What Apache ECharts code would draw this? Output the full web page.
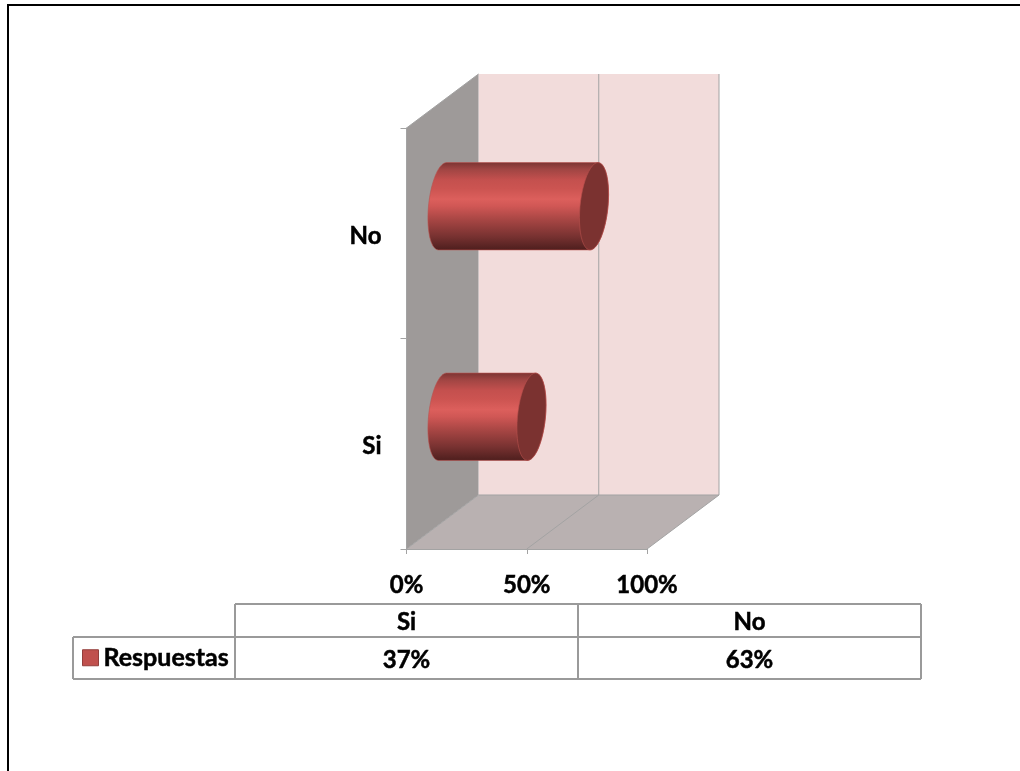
<!DOCTYPE html>
<html>
<head>
<meta charset="utf-8">
<title>Respuestas</title>
<style>html,body{margin:0;padding:0;background:#fff}#chart{width:1020px;height:771px}</style>
<script src="https://cdn.jsdelivr.net/npm/echarts@6/dist/echarts.min.js"></script>
</head>
<body>
<div id="chart"></div>
<script>
// Chart data
const categories = ['Si', 'No'];
const seriesName = 'Respuestas';
const respuestas = [37, 63];
const axisTicks = [0, 50, 100];

// Styling
const FONT = 'Lato, "Open Sans", sans-serif';
const FONT_SIZE = 24;
const TEXT_WEIGHT = { textBorderColor: '#000', textBorderWidth: 0.5 };
const LABEL_TEXT = { color: '#000', fontWeight: 'bold', fontSize: FONT_SIZE, fontFamily: FONT, ...TEXT_WEIGHT };
const LINE = '#a3a3a3';
const TABLE_LINE = '#9a9a9a';

// Oblique projection: how far the back of the plot box sits from its front
const DEPTH_X = 72, DEPTH_Y = -54;
// The bar sits half way into the box
const MID_X = DEPTH_X / 2, MID_Y = DEPTH_Y / 2;
// Lean of the end ellipses
const CAP_RX = 14, CAP_SHEAR = 4;

function ellipsePoints(cx, cy, ry, from, to) {
  const pts = [];
  const n = 48;
  for (let i = 0; i <= n; i++) {
    const t = from + (to - from) * i / n;
    pts.push([cx + CAP_RX * Math.cos(t) + CAP_SHEAR * Math.sin(t), cy - ry * Math.sin(t)]);
  }
  return pts;
}

// Back wall, side wall, floor and the depth lines of the value gridlines
function renderBox(params, api) {
  const g = params.coordSys;
  const L = g.x, R = g.x + g.width, T = g.y, B = g.y + g.height;
  const poly = (points, style) => ({ type: 'polygon', shape: { points }, style });
  const seg = (x1, y1, x2, y2) => ({
    type: 'line', shape: { x1, y1, x2, y2 }, style: { stroke: LINE, lineWidth: 1 }
  });
  const children = [
    poly([[L + DEPTH_X, T + DEPTH_Y], [R + DEPTH_X, T + DEPTH_Y], [R + DEPTH_X, B + DEPTH_Y], [L + DEPTH_X, B + DEPTH_Y]], { fill: '#f2dcdb' }),
    poly([[L, T], [L + DEPTH_X, T + DEPTH_Y], [L + DEPTH_X, B + DEPTH_Y], [L, B]], { fill: '#9e9a99' }),
    poly([[L, B], [L + DEPTH_X, B + DEPTH_Y], [R + DEPTH_X, B + DEPTH_Y], [R, B]], { fill: '#b9b1b1' }),
    seg(L, T, L + DEPTH_X, T + DEPTH_Y),
    seg(L, B, L + DEPTH_X, B + DEPTH_Y),
    seg(L + DEPTH_X, B + DEPTH_Y, R + DEPTH_X, B + DEPTH_Y)
  ];
  axisTicks.slice(1).forEach(v => {
    const x = api.coord([v, 0])[0];
    children.push(seg(x, B, x + DEPTH_X, B + DEPTH_Y));
    children.push(seg(x + DEPTH_X, B + DEPTH_Y, x + DEPTH_X, T + DEPTH_Y));
  });
  return { type: 'group', children };
}

// Horizontal cylinder from the zero line to the value
function renderCylinder(params, api) {
  const base = api.coord([0, api.value(1)]);
  const end = api.coord([api.value(0), api.value(1)]);
  const ry = api.size([0, 1])[1] * 0.2075;
  const cy = base[1] + MID_Y;
  const x0 = base[0] + MID_X, x1 = end[0] + MID_X;
  // Body outline: the far half of the start ellipse joined to the near half of the end ellipse
  const body = ellipsePoints(x0, cy, ry, Math.PI / 2, Math.PI * 1.5)
    .concat(ellipsePoints(x1, cy, ry, -Math.PI / 2, Math.PI / 2));
  const shade = new echarts.graphic.LinearGradient(0, 0, 0, 1, [
    { offset: 0, color: '#7b3432' },
    { offset: 0.08, color: '#a04543' },
    { offset: 0.2, color: '#c4504e' },
    { offset: 0.3, color: '#cc5451' },
    { offset: 0.42, color: '#dc5f5c' },
    { offset: 0.5, color: '#d05755' },
    { offset: 0.65, color: '#a84644' },
    { offset: 0.85, color: '#763130' },
    { offset: 1, color: '#4d1e1d' }
  ]);
  return {
    type: 'group',
    children: [
      { type: 'polygon', shape: { points: body }, style: { fill: shade, stroke: '#b9504e', lineWidth: 0.6 } },
      { type: 'polygon', shape: { points: ellipsePoints(x1, cy, ry, 0, Math.PI * 2) },
        style: { fill: '#7b3230', stroke: '#b9504e', lineWidth: 0.6 } }
    ]
  };
}

// Data table under the plot
const TABLE = { left: 73, label: 235, mid: 578, right: 921, top: 604, row: 637, bottom: 679 };
function tableGraphics() {
  const t = TABLE;
  const seg = (x1, y1, x2, y2) => ({
    type: 'line', shape: { x1, y1, x2, y2 }, style: { stroke: TABLE_LINE, lineWidth: 2 }, z: 1
  });
  const cell = (x, y, text) => ({
    type: 'text', x, y,
    style: {
      text, fill: '#000', font: 'bold ' + FONT_SIZE + 'px ' + FONT, textAlign: 'center', textVerticalAlign: 'middle',
      stroke: '#000', lineWidth: 0.5
    }, z: 2
  });
  const xs = [t.label, t.mid];
  const out = [
    seg(t.label, t.top, t.right, t.top),
    seg(t.left, t.row, t.right, t.row),
    seg(t.left, t.bottom, t.right, t.bottom),
    seg(t.left, t.row, t.left, t.bottom),
    seg(t.label, t.top, t.label, t.bottom),
    seg(t.mid, t.top, t.mid, t.bottom),
    seg(t.right, t.top, t.right, t.bottom)
  ];
  categories.forEach((c, i) => {
    const cx = (xs[i] + (i + 1 < xs.length ? xs[i + 1] : t.right)) / 2;
    out.push(cell(cx, 622, c));
    out.push(cell(cx, 660, respuestas[i] + '%'));
  });
  // Outer frame lines along the top and left edges
  const edge = (x1, y1, x2, y2) => ({
    type: 'line', shape: { x1, y1, x2, y2 }, style: { stroke: '#000', lineWidth: 2 }, z: 1
  });
  out.push(edge(7, 5, 1020, 5), edge(8, 4, 8, 771));
  return out;
}

const chart = echarts.init(document.getElementById('chart'), null, { renderer: 'canvas' });
chart.setOption({
  animation: false,
  backgroundColor: '#fff',
  textStyle: { fontFamily: FONT },
  grid: { left: 406.5, top: 128, width: 240.5, height: 421 },
  xAxis: {
    type: 'value', min: axisTicks[0], max: axisTicks[2], interval: axisTicks[1], z: 3,
    axisLine: { show: true, lineStyle: { color: LINE } },
    axisTick: { show: true, length: 5, lineStyle: { color: LINE } },
    splitLine: { show: false },
    axisLabel: { ...LABEL_TEXT, margin: 24, formatter: '{value}%' }
  },
  yAxis: {
    type: 'category', data: categories, z: 3,
    axisLine: { show: true, lineStyle: { color: LINE } },
    axisTick: { show: true, length: 6, lineStyle: { color: LINE } },
    axisLabel: {
      ...LABEL_TEXT, margin: 25, formatter: '{cat|{value}}',
      rich: { cat: { ...LABEL_TEXT, padding: [6, 0, 0, 0] } }
    }
  },
  legend: {
    data: [{ name: seriesName, icon: 'rect', itemStyle: { color: '#c0504d', borderColor: '#933e3b', borderWidth: 1 } }],
    left: 82, top: 645, itemWidth: 16, itemHeight: 16, itemGap: 6, selectedMode: false,
    textStyle: { ...LABEL_TEXT, fontSize: 25 },
    padding: 0
  },
  series: [
    { type: 'custom', name: 'box', silent: true, z: 1, renderItem: renderBox, data: [[0, 0]],
      encode: { x: 0, y: 1 } },
    { type: 'custom', name: seriesName, silent: true, z: 4, renderItem: renderCylinder,
      itemStyle: { color: '#c0504d' },
      encode: { x: 0, y: 1 },
      data: respuestas.map((v, i) => [v, i]) }
  ],
  graphic: tableGraphics()
});
</script>
</body>
</html>
